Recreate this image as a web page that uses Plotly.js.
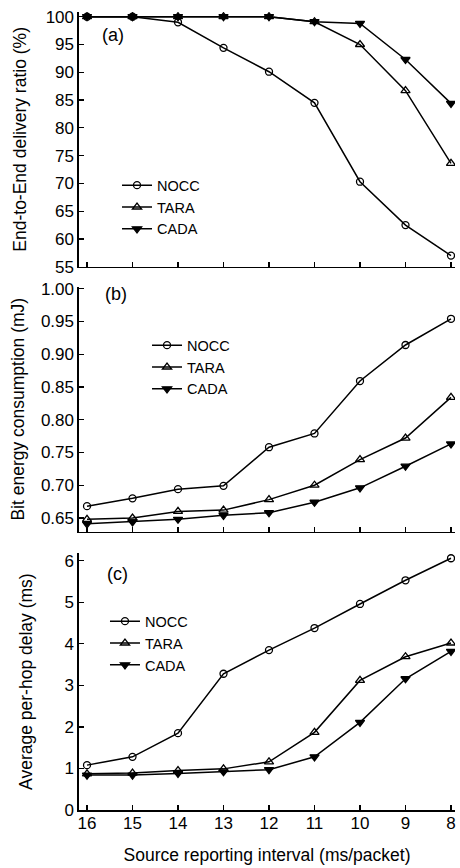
<!DOCTYPE html>
<html><head><meta charset="utf-8">
<script src="https://cdn.plot.ly/plotly-3.0.1.min.js"></script>
<style>html,body{margin:0;padding:0;background:#fff}#chart{width:460px;height:868px}</style>
</head><body><div id="chart"></div>
<script>
const intervals = [16, 15, 14, 13, 12, 11, 10, 9, 8];
const seriesNames = ['NOCC', 'TARA', 'CADA'];

const deliveryNOCC = [100, 100, 99.0, 94.4, 90.1, 84.5, 70.3, 62.5, 57.0];
const deliveryTARA = [100, 100, 100, 100, 100, 99.1, 95.0, 86.7, 73.6];
const deliveryCADA = [100, 100, 100, 100, 100, 99.1, 98.8, 92.3, 84.4];

const energyNOCC = [0.668, 0.680, 0.694, 0.699, 0.758, 0.779, 0.859, 0.914, 0.954];
const energyTARA = [0.648, 0.650, 0.660, 0.662, 0.678, 0.700, 0.739, 0.772, 0.834];
const energyCADA = [0.641, 0.644, 0.648, 0.654, 0.658, 0.674, 0.696, 0.729, 0.763];

const delayNOCC = [1.08, 1.28, 1.85, 3.28, 3.85, 4.38, 4.96, 5.53, 6.06];
const delayTARA = [0.87, 0.89, 0.95, 0.99, 1.16, 1.87, 3.12, 3.69, 4.02];
const delayCADA = [0.84, 0.84, 0.88, 0.92, 0.97, 1.28, 2.11, 3.16, 3.82];

const yTicksA = [55, 60, 65, 70, 75, 80, 85, 90, 95, 100];
const yTicksB = [0.65, 0.70, 0.75, 0.80, 0.85, 0.90, 0.95, 1.00];
const yTicksC = [0, 1, 2, 3, 4, 5, 6];

const FONT = 'Liberation Sans, Arial, Helvetica, sans-serif';
const symbols = ['circle-open', 'triangle-up-open', 'triangle-down'];
const sizes = [7, 8, 8];

function mk(y, i, xa, ya, leg) {
  return {
    x: intervals, y: y, name: seriesNames[i], type: 'scatter', mode: 'lines+markers',
    xaxis: xa, yaxis: ya, legend: leg, showlegend: true,
    line: {color: '#000', width: 1.5},
    marker: {symbol: symbols[i], size: sizes[i], color: '#000', line: {color: '#000', width: 1.3}}
  };
}
const data = [
  mk(deliveryNOCC, 0, 'x', 'y', 'legend'),
  mk(deliveryTARA, 1, 'x', 'y', 'legend'),
  mk(deliveryCADA, 2, 'x', 'y', 'legend'),
  mk(energyNOCC, 0, 'x2', 'y2', 'legend2'),
  mk(energyTARA, 1, 'x2', 'y2', 'legend2'),
  mk(energyCADA, 2, 'x2', 'y2', 'legend2'),
  mk(delayNOCC, 0, 'x3', 'y3', 'legend3'),
  mk(delayTARA, 1, 'x3', 'y3', 'legend3'),
  mk(delayCADA, 2, 'x3', 'y3', 'legend3')
];

const xBase = {
  range: [16.176, 7.912], tickvals: intervals, ticks: 'inside', ticklen: 5, tickwidth: 1.3,
  tickcolor: '#000', showline: true, linecolor: '#000', linewidth: 1.6, showgrid: false,
  zeroline: false, tickfont: {family: FONT, size: 17, color: '#000'}, fixedrange: true, automargin: false
};
function yBase(range, ticks, fmt, title, dom, standoff) {
  return {
    range: range, tickvals: ticks, tickformat: fmt, ticks: 'inside', ticklen: 5, tickwidth: 1.3,
    tickcolor: '#000', showline: true, linecolor: '#000', linewidth: 1.6, showgrid: false,
    zeroline: false, domain: dom, tickfont: {family: FONT, size: 17, color: '#000'},
    title: {text: title, font: {family: FONT, size: 17.5, color: '#000'}, standoff: standoff}, automargin: false
  };
}
function leg(x, y) {
  return {x: x, y: y, xref: 'paper', yref: 'paper', xanchor: 'left', yanchor: 'top',
    bgcolor: 'rgba(0,0,0,0)', borderwidth: 0, tracegroupgap: 0,
    font: {family: FONT, size: 14.5, color: '#000'}};
}
const layout = {
  width: 460, height: 868, paper_bgcolor: '#fff', plot_bgcolor: '#fff',
  margin: {l: 79, r: 5, t: 12, b: 58, autoexpand: false},
  font: {family: FONT, color: '#000'},
  xaxis: Object.assign({}, xBase, {anchor: 'y', showticklabels: false}),
  xaxis2: Object.assign({}, xBase, {anchor: 'y2', showticklabels: false}),
  xaxis3: Object.assign({}, xBase, {anchor: 'y3', ticklabelstandoff: -3,
    title: {text: 'Source reporting interval (ms/packet)', font: {family: FONT, size: 17.5, color: '#000'}, standoff: 17}}),
  yaxis: yBase([55, 100.85], yTicksA, 'd', 'End-to-End delivery ratio (%)', [0.6808, 1.0], 14),
  yaxis2: yBase([0.629, 1.003], yTicksB, '.2f', 'Bit energy consumption (mJ)', [0.3487, 0.6558], 12),
  yaxis3: yBase([0, 6.18], yTicksC, 'd', 'Average per-hop delay (ms)', [0, 0.3217], 27),
  legend: leg(0.1011, 0.8030),
  legend2: leg(0.1809, 0.6025),
  legend3: leg(0.0691, 0.2566),
  annotations: [
    {text: '(a)', xref: 'x domain', yref: 'y domain', x: 0.055, y: 0.91, xanchor: 'left', yanchor: 'middle', showarrow: false, font: {family: FONT, size: 18, color: '#000'}},
    {text: '(b)', xref: 'x2 domain', yref: 'y2 domain', x: 0.063, y: 0.97, xanchor: 'left', yanchor: 'middle', showarrow: false, font: {family: FONT, size: 18, color: '#000'}},
    {text: '(c)', xref: 'x3 domain', yref: 'y3 domain', x: 0.068, y: 0.92, xanchor: 'left', yanchor: 'middle', showarrow: false, font: {family: FONT, size: 18, color: '#000'}}
  ]
};
Plotly.newPlot('chart', data, layout, {displayModeBar: false, staticPlot: true});
</script></body></html>
